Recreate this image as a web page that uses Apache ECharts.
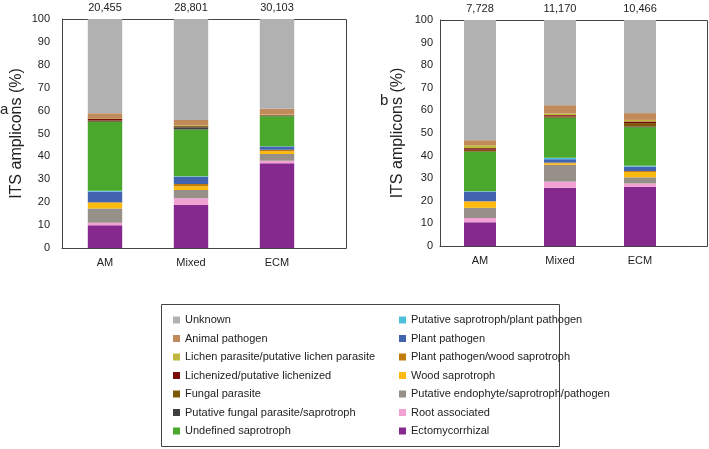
<!DOCTYPE html>
<html>
<head>
<meta charset="utf-8">
<script src="https://cdn.jsdelivr.net/npm/echarts@6/dist/echarts.min.js"></script>
<style>html,body{margin:0;padding:0;background:#fff;}#c{width:709px;height:449px;}</style>
</head>
<body>
<div id="c"></div>
<script>
// Categories and series (stack order, bottom to top)
const categories = ['AM', 'Mixed', 'ECM'];
const seriesNames = [
  'Ectomycorrhizal',
  'Root associated',
  'Putative endophyte/saprotroph/pathogen',
  'Wood saprotroph',
  'Plant pathogen/wood saprotroph',
  'Plant pathogen',
  'Putative saprotroph/plant pathogen',
  'Undefined saprotroph',
  'Putative fungal parasite/saprotroph',
  'Fungal parasite',
  'Lichenized/putative lichenized',
  'Lichen parasite/putative lichen parasite',
  'Animal pathogen',
  'Unknown'
];
// Panel a values (%), in seriesNames order
const aAM    = [9.9, 1.1, 6.3, 2.5, 0.2, 4.6, 0.4, 30.0, 0.3, 0.4, 0.8, 0.3, 2.0, 41.2];
const aMixed = [18.8, 2.9, 3.6, 1.7, 0.9, 3.2, 0.2, 20.4, 1.0, 0.5, 0.2, 0.3, 2.2, 44.1];
const aECM   = [37.0, 1.1, 2.9, 1.3, 0.6, 1.4, 0.1, 13.1, 0.3, 0.2, 0.1, 0.2, 2.5, 39.2];
// Panel b values (%)
const bAM    = [10.5, 1.9, 4.5, 2.8, 0.1, 4.2, 0.2, 17.4, 0.2, 0.8, 0.7, 1.3, 2.2, 53.2];
const bMixed = [25.8, 2.7, 7.4, 0.7, 0.3, 1.5, 0.7, 17.5, 0.2, 0.5, 0.6, 0.7, 3.7, 37.7];
const bECM   = [26.2, 1.5, 2.7, 2.3, 0.5, 1.9, 0.4, 17.0, 0.3, 1.6, 0.7, 0.7, 3.0, 41.2];
// Read counts above bars
const countsA = ['20,455', '28,801', '30,103'];
const countsB = ['7,728', '11,170', '10,466'];
// Legend columns
const legendLeft = ['Unknown', 'Animal pathogen', 'Lichen parasite/putative lichen parasite',
  'Lichenized/putative lichenized', 'Fungal parasite', 'Putative fungal parasite/saprotroph', 'Undefined saprotroph'];
const legendRight = ['Putative saprotroph/plant pathogen', 'Plant pathogen', 'Plant pathogen/wood saprotroph',
  'Wood saprotroph', 'Putative endophyte/saprotroph/pathogen', 'Root associated', 'Ectomycorrhizal'];

const colors = ['#86298e', '#f2a2d2', '#979089', '#ffba10', '#c27c0c', '#4263b0', '#50bedd', '#4aa82c',
  '#3f3f3f', '#7e5807', '#7a0c0e', '#bfb83c', '#c18a5b', '#b1b1b1'];

const FONT = 'Liberation Sans';
const chart = echarts.init(document.getElementById('c'), null, {renderer: 'canvas'});

function buildSeries(panelRows, counts, idx, stackId) {
  return seriesNames.map((name, s) => ({
    name: name,
    type: 'bar',
    stack: stackId,
    xAxisIndex: idx,
    yAxisIndex: idx,
    barWidth: '40%',
    itemStyle: {color: colors[s]},
    data: panelRows.map(row => row[s]),
    label: s === seriesNames.length - 1 ? {
      show: true, position: 'top', distance: 6,
      fontFamily: FONT, fontSize: 11, color: '#222',
      formatter: p => counts[p.dataIndex]
    } : {show: false},
    emphasis: {disabled: true}
  }));
}

function xAxisCfg(gi) {
  return {
    type: 'category', gridIndex: gi, data: categories,
    axisLine: {lineStyle: {color: '#444', width: 1}},
    axisTick: {show: false},
    axisLabel: {fontFamily: FONT, fontSize: 11, color: '#222', margin: 9}
  };
}
function yAxisCfg(gi, margin, gap) {
  return {
    type: 'value', gridIndex: gi, min: 0, max: 100, interval: 10,
    name: 'ITS amplicons (%)', nameLocation: 'middle', nameGap: gap, nameRotate: 90,
    nameTextStyle: {fontFamily: FONT, fontSize: 16, color: '#222'},
    axisLine: {show: true, lineStyle: {color: '#444', width: 1}},
    axisTick: {show: false},
    splitLine: {show: false},
    axisLabel: {fontFamily: FONT, fontSize: 11, color: '#222', margin: margin}
  };
}

const legendCommon = {
  orient: 'vertical', icon: 'rect', itemWidth: 7, itemHeight: 7, itemGap: 4.5,
  selectedMode: false,
  textStyle: {fontFamily: FONT, fontSize: 11, color: '#222', lineHeight: 14}
};

chart.setOption({
  animation: false,
  backgroundColor: '#fff',
  grid: [
    {left: 62, top: 19, width: 258, height: 229},
    {left: 440, top: 20, width: 240, height: 226}
  ],
  xAxis: [xAxisCfg(0), xAxisCfg(1)],
  yAxis: [yAxisCfg(0, 12, 37), yAxisCfg(1, 7, 34)],
  legend: [
    Object.assign({left: 168, top: 308, data: legendLeft}, legendCommon),
    Object.assign({left: 394, top: 308, data: legendRight}, legendCommon)
  ],
  graphic: [
    {type: 'rect', shape: {x: 62.5, y: 19.5, width: 284, height: 229}, style: {fill: 'none', stroke: '#444', lineWidth: 1}, silent: true},
    {type: 'rect', shape: {x: 440.5, y: 20.5, width: 267, height: 226}, style: {fill: 'none', stroke: '#444', lineWidth: 1}, silent: true},
    {type: 'rect', shape: {x: 161.5, y: 304.5, width: 398, height: 142}, style: {fill: 'none', stroke: '#444', lineWidth: 1}, silent: true},
    {type: 'text', left: 0, top: 102, style: {text: 'a', fontFamily: FONT, fontSize: 15, fill: '#222'}},
    {type: 'text', left: 380, top: 93, style: {text: 'b', fontFamily: FONT, fontSize: 15, fill: '#222'}}
  ],
  series: buildSeries([aAM, aMixed, aECM], countsA, 0, 'a').concat(
          buildSeries([bAM, bMixed, bECM], countsB, 1, 'b'))
});
</script>
</body>
</html>
